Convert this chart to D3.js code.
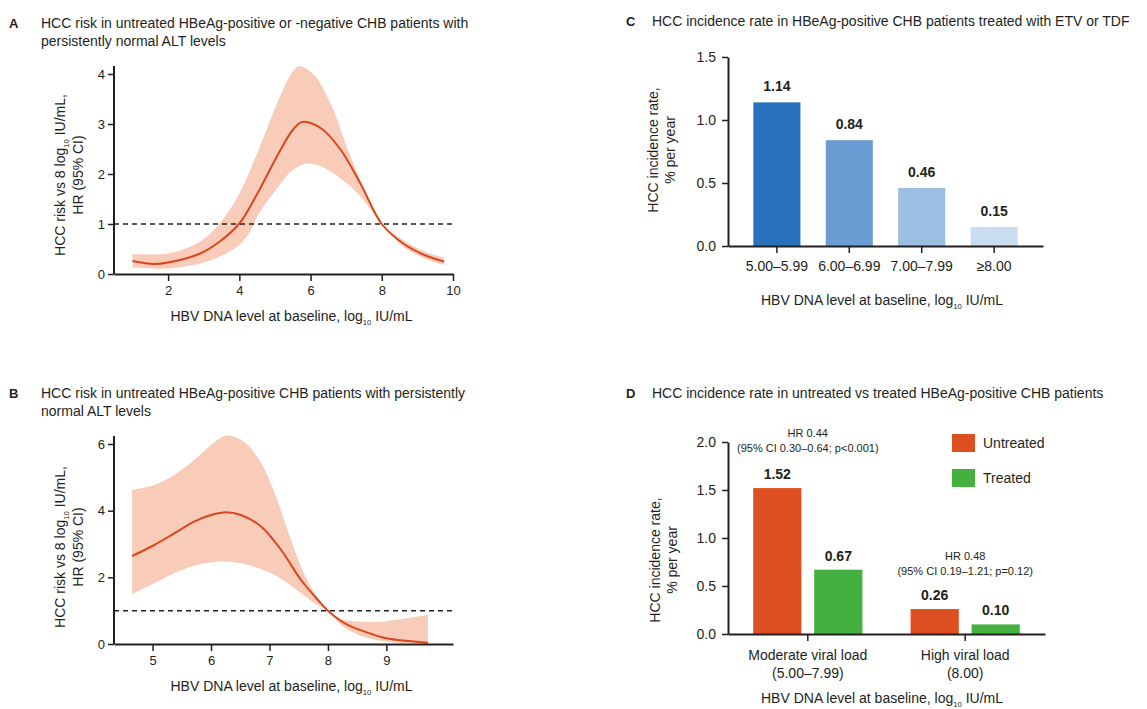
<!DOCTYPE html>
<html>
<head>
<meta charset="UTF-8">
<style>
  body { margin: 0; background: #fff; }
  svg { font-family: "Liberation Sans", Arial, sans-serif; }
  text { fill: #231f20; }
</style>
</head>
<body>
<svg width="1147" height="709"></svg>
<script src="https://d3js.org/d3.v7.min.js"></script>
<script>

// ---- data ----
// panel A: spline HR curve with 95% CI
const aX     = [1.0, 1.6, 2.0, 2.9, 3.45, 4.0, 4.5, 5.1, 5.5, 5.77, 6.3, 6.85, 7.4, 8.0, 8.6, 9.2, 9.75];
const aHR    = [0.26, 0.2, 0.23, 0.41, 0.65, 1.01, 1.6, 2.41, 2.88, 3.04, 2.91, 2.48, 1.81, 1.0, 0.61, 0.38, 0.25];
const aUpX   = [1.0, 2.0, 2.9, 3.45, 4.0, 4.5, 5.1, 5.5, 5.68, 6.1, 6.6, 7.05, 7.6, 8.0, 8.6, 9.2, 9.75];
const aUp    = [0.4, 0.41, 0.65, 1.01, 1.61, 2.41, 3.48, 4.05, 4.16, 3.98, 3.35, 2.48, 1.55, 1.01, 0.68, 0.45, 0.33];
const aLoX   = [1.0, 2.0, 2.9, 3.45, 4.0, 4.33, 4.5, 5.1, 5.5, 5.9, 6.3, 6.85, 7.4, 8.0, 8.6, 9.2, 9.75];
const aLo    = [0.13, 0.11, 0.21, 0.35, 0.58, 0.88, 1.15, 1.75, 2.08, 2.21, 2.15, 1.91, 1.55, 1.0, 0.55, 0.31, 0.18];

// panel B
const bX     = [4.65, 5.03, 5.37, 5.71, 6.0, 6.26, 6.51, 6.86, 7.2, 7.54, 7.83, 8.0, 8.29, 8.63, 9.0, 9.37, 9.71];
const bHR    = [2.64, 2.97, 3.32, 3.67, 3.87, 3.95, 3.87, 3.52, 2.82, 1.92, 1.32, 1.0, 0.62, 0.37, 0.17, 0.09, 0.04];
const bUpX   = [4.65, 5.03, 5.37, 5.71, 6.0, 6.23, 6.4, 6.63, 6.86, 7.09, 7.31, 7.54, 7.77, 8.0, 8.23, 8.57, 8.91, 9.26, 9.71];
const bUp    = [4.62, 4.77, 5.07, 5.52, 5.97, 6.24, 6.22, 5.97, 5.42, 4.52, 3.42, 2.32, 1.52, 1.0, 0.74, 0.67, 0.67, 0.75, 0.87];
const bLoX   = [4.65, 5.03, 5.37, 5.71, 6.11, 6.4, 6.74, 7.09, 7.43, 7.77, 8.0, 8.23, 8.46, 8.69, 9.03, 9.37, 9.71];
const bLo    = [1.49, 1.82, 2.12, 2.35, 2.47, 2.45, 2.32, 2.07, 1.67, 1.22, 1.0, 0.57, 0.32, 0.17, 0.07, 0.02, 0.0];

// panel C
const cCats   = ["5.00–5.99", "6.00–6.99", "7.00–7.99", "≥8.00"];
const cRates  = [1.14, 0.84, 0.46, 0.15];
const cColors = ["#2872bd", "#6b9dd4", "#9dbde2", "#cadcf0"];

// panel D
const dGroups  = ["Moderate viral load", "High viral load"];
const dRanges  = ["(5.00–7.99)", "(8.00)"];
const dSeries  = ["Untreated", "Treated"];
const dUntreated = [1.52, 0.26];
const dTreated   = [0.67, 0.10];
const dHR = [["HR 0.44", "(95% CI 0.30–0.64; p<0.001)"], ["HR 0.48", "(95% CI 0.19–1.21; p=0.12)"]];

const lineCol = "#d9471e", bandCol = "#f9cbb9";
const svg = d3.select("svg");

// text with a "log10" subscript
function logText(g, x, y, pre, post, size, rotate) {
  let t = g.append("text")
    .attr("text-anchor", "middle")
    .attr("font-size", size)
    .attr("transform", "translate(" + x + "," + y + ")" + (rotate ? " rotate(-90)" : ""));
  t.append("tspan").text(pre + "log");
  t.append("tspan").attr("font-size", size * 0.55).attr("dy", size * 0.25).text("10");
  t.append("tspan").attr("dy", -size * 0.25).text(" " + post);
  return t;
}

function panelTitle(letter, lines, x, y, off) {
  svg.append("text").attr("x", x).attr("y", y).attr("font-weight", "bold")
    .attr("font-size", 13).text(letter);
  lines.forEach((l, i) => {
    svg.append("text").attr("x", x + off).attr("y", y + i * 18)
      .attr("font-size", 14).text(l);
  });
}

function styleAxis(g) {
  g.selectAll(".domain").attr("stroke", "#231f20").attr("stroke-width", 2);
  g.selectAll(".tick line").attr("stroke", "#231f20").attr("stroke-width", 1.5);
  g.selectAll(".tick text").attr("fill", "#231f20").attr("font-family", "Liberation Sans, Arial, sans-serif");
}

function curvePanel(opt) {
  const x = d3.scaleLinear().domain(opt.xDom).range([opt.left, opt.right]);
  const y = d3.scaleLinear().domain(opt.yDom).range([opt.bottom, opt.top]);
  const g = svg.append("g");

  // CI band: upper edge forward, lower edge back
  const upPts = opt.upX.map((v, i) => [x(v), y(opt.up[i])]);
  const loPts = opt.loX.map((v, i) => [x(v), y(opt.lo[i])]).reverse();
  const line = d3.line().curve(d3.curveCatmullRom.alpha(0.5));
  const upPath = line(upPts);
  const loPath = line(loPts);
  g.append("path")
    .attr("d", upPath + "L" + loPath.slice(1) + "Z")
    .attr("fill", bandCol);

  g.append("line")
    .attr("x1", opt.left).attr("x2", opt.right)
    .attr("y1", y(1)).attr("y2", y(1))
    .attr("stroke", "#231f20").attr("stroke-width", 1.5)
    .attr("stroke-dasharray", "5,4");

  g.append("path")
    .attr("d", line(opt.cx.map((v, i) => [x(v), y(opt.cy[i])])))
    .attr("fill", "none").attr("stroke", lineCol).attr("stroke-width", 2);

  const ax = g.append("g").attr("transform", "translate(0," + opt.bottom + ")")
    .call(d3.axisBottom(x).tickValues(opt.xTicks).tickFormat(d3.format("d"))
      .tickSize(7).tickPadding(5).tickSizeOuter(0));
  ax.selectAll(".tick text").attr("font-size", 13);
  styleAxis(ax);
  const ay = g.append("g").attr("transform", "translate(" + opt.left + ",0)")
    .call(d3.axisLeft(y).tickValues(opt.yTicks).tickFormat(d3.format("d"))
      .tickSize(6).tickPadding(3).tickSizeOuter(0));
  ay.selectAll(".tick text").attr("font-size", 13);
  styleAxis(ay);
  ay.select(".domain").attr("d", "M0," + (opt.top - 8) + "V" + opt.bottom);

  logText(g, (opt.left + opt.right) / 2 + 8, opt.bottom + 47, "HBV DNA level at baseline, ", "IU/mL", 14);
  logText(g, opt.left - 49, opt.yMid, "HCC risk vs 8 ", "IU/mL,", 14, true);
  g.append("text").attr("text-anchor", "middle").attr("font-size", 14)
    .attr("transform", "translate(" + (opt.left - 31) + "," + opt.yMid + ") rotate(-90)")
    .text("HR (95% CI)");
}

// ---- panel A ----
panelTitle("A", ["HCC risk in untreated HBeAg-positive or -negative CHB patients with",
                 "persistently normal ALT levels"], 9, 28, 32);
curvePanel({
  xDom: [0.48, 10], yDom: [0, 4], left: 114, right: 453, top: 74, bottom: 274, yMid: 175,
  xTicks: [2, 4, 6, 8, 10], yTicks: [0, 1, 2, 3, 4],
  cx: aX, cy: aHR, upX: aUpX, up: aUp, loX: aLoX, lo: aLo
});

// ---- panel B ----
panelTitle("B", ["HCC risk in untreated HBeAg-positive CHB patients with persistently",
                 "normal ALT levels"], 9, 398, 32);
curvePanel({
  xDom: [4.34, 10.14], yDom: [0, 6], left: 114, right: 453, top: 444, bottom: 644, yMid: 547,
  xTicks: [5, 6, 7, 8, 9], yTicks: [0, 2, 4, 6],
  cx: bX, cy: bHR, upX: bUpX, up: bUp, loX: bLoX, lo: bLo
});

// ---- panel C ----
panelTitle("C", ["HCC incidence rate in HBeAg-positive CHB patients treated with ETV or TDF"], 626, 26, 26);
{
  const left = 728, right = 1043, top = 57, bottom = 246;
  const x = d3.scaleBand().domain(cCats).range([left, right]).paddingInner(0.35).paddingOuter(0.35);
  const y = d3.scaleLinear().domain([0, 1.5]).range([bottom, top]);
  const g = svg.append("g");
  g.selectAll("rect").data(cCats).join("rect")
    .attr("x", d => x(d)).attr("width", x.bandwidth())
    .attr("y", (d, i) => y(cRates[i])).attr("height", (d, i) => bottom - y(cRates[i]))
    .attr("fill", (d, i) => cColors[i]);
  g.selectAll(".val").data(cCats).join("text").attr("class", "val")
    .attr("x", d => x(d) + x.bandwidth() / 2).attr("y", (d, i) => y(cRates[i]) - 11)
    .attr("text-anchor", "middle").attr("font-size", 14).attr("font-weight", "bold")
    .text((d, i) => cRates[i].toFixed(2));

  const ax = g.append("g").attr("transform", "translate(0," + bottom + ")")
    .call(d3.axisBottom(x).tickSize(7).tickPadding(8).tickSizeOuter(0));
  ax.selectAll(".tick text").attr("font-size", 14);
  styleAxis(ax);
  const ay = g.append("g").attr("transform", "translate(" + left + ",0)")
    .call(d3.axisLeft(y).tickValues([0, 0.5, 1, 1.5]).tickFormat(d3.format(".1f")).tickSize(6).tickPadding(6).tickSizeOuter(0));
  ay.selectAll(".tick text").attr("font-size", 14);
  styleAxis(ay);

  logText(g, 882, 305, "HBV DNA level at baseline, ", "IU/mL", 14);
  g.append("text").attr("text-anchor", "middle").attr("font-size", 14)
    .attr("transform", "translate(658,150) rotate(-90)").text("HCC incidence rate,");
  g.append("text").attr("text-anchor", "middle").attr("font-size", 14)
    .attr("transform", "translate(675,150) rotate(-90)").text("% per year");
}

// ---- panel D ----
panelTitle("D", ["HCC incidence rate in untreated vs treated HBeAg-positive CHB patients"], 626, 398, 26);
{
  const left = 728, right = 1045, top = 442, bottom = 634;
  const x0 = d3.scaleBand().domain(dGroups).range([left, right]).paddingInner(0.306).paddingOuter(0.16);
  const x1 = d3.scaleBand().domain(dSeries).range([0, x0.bandwidth()]).paddingInner(0.21);
  const y = d3.scaleLinear().domain([0, 2]).range([bottom, top]);
  const col = d3.scaleOrdinal().domain(dSeries).range(["#dd4f21", "#43b040"]);
  const g = svg.append("g");

  const rows = [];
  dGroups.forEach((grp, i) => {
    rows.push({ grp: grp, s: "Untreated", v: dUntreated[i] });
    rows.push({ grp: grp, s: "Treated", v: dTreated[i] });
  });
  g.selectAll("rect").data(rows).join("rect")
    .attr("x", d => x0(d.grp) + x1(d.s)).attr("width", x1.bandwidth())
    .attr("y", d => y(d.v)).attr("height", d => bottom - y(d.v))
    .attr("fill", d => col(d.s));
  g.selectAll(".val").data(rows).join("text").attr("class", "val")
    .attr("x", d => x0(d.grp) + x1(d.s) + x1.bandwidth() / 2).attr("y", d => y(d.v) - 9)
    .attr("text-anchor", "middle").attr("font-size", 14).attr("font-weight", "bold")
    .text(d => d.v.toFixed(2));

  // HR annotations above each group
  const hrY = [433, 556];
  dGroups.forEach((grp, i) => {
    const cx = x0(grp) + x0.bandwidth() / 2;
    dHR[i].forEach((t, j) => {
      g.append("text").attr("x", cx).attr("y", hrY[i] + j * 15 + 4)
        .attr("text-anchor", "middle").attr("font-size", 11).text(t);
    });
  });

  const ax = g.append("g").attr("transform", "translate(0," + bottom + ")")
    .call(d3.axisBottom(x0).tickSize(7).tickPadding(9).tickSizeOuter(0));
  ax.selectAll(".tick text").attr("font-size", 14);
  ax.selectAll(".tick").append("text")
    .attr("y", 34).attr("dy", "0.71em").attr("text-anchor", "middle")
    .attr("font-size", 14).attr("fill", "#231f20")
    .text((d, i) => dRanges[i]);
  styleAxis(ax);
  const ay = g.append("g").attr("transform", "translate(" + left + ",0)")
    .call(d3.axisLeft(y).tickValues([0, 0.5, 1, 1.5, 2]).tickFormat(d3.format(".1f")).tickSize(6).tickPadding(6).tickSizeOuter(0));
  ay.selectAll(".tick text").attr("font-size", 14);
  styleAxis(ay);

  // legend
  const lg = g.append("g").attr("transform", "translate(952,434)");
  dSeries.forEach((s, i) => {
    lg.append("rect").attr("x", 0).attr("y", i * 35).attr("width", 23).attr("height", 18).attr("fill", col(s));
    lg.append("text").attr("x", 31).attr("y", i * 35 + 14).attr("font-size", 14).text(s);
  });

  logText(g, 882, 703, "HBV DNA level at baseline, ", "IU/mL", 14);
  g.append("text").attr("text-anchor", "middle").attr("font-size", 14)
    .attr("transform", "translate(660,560) rotate(-90)").text("HCC incidence rate,");
  g.append("text").attr("text-anchor", "middle").attr("font-size", 14)
    .attr("transform", "translate(677,560) rotate(-90)").text("% per year");
}
</script>
</body>
</html>
